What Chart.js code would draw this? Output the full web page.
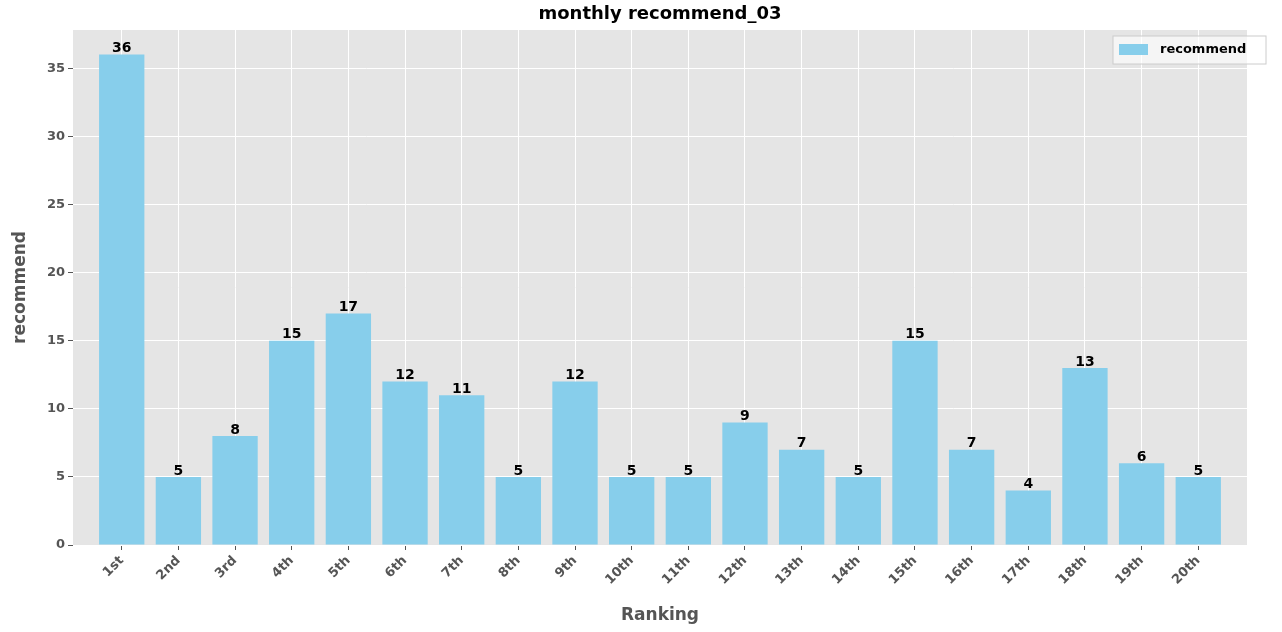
<!DOCTYPE html>
<html><head><meta charset="utf-8">
<script src="https://cdn.jsdelivr.net/npm/chart.js@4"></script>
<style>body{margin:0;background:#fff}#w{width:1282px;height:632px}</style>
</head><body><div id="w"><canvas id="c"></canvas></div>
<script>
var labels = ["1st","2nd","3rd","4th","5th","6th","7th","8th","9th","10th","11th","12th","13th","14th","15th","16th","17th","18th","19th","20th"];
var recommend = [36,5,8,15,17,12,11,5,12,5,5,9,7,5,15,7,4,13,6,5];
var yTicks = [0,5,10,15,20,25,30,35];

var FONT = "'DejaVu Sans', sans-serif";
var deco = {
    id: 'deco',
    beforeDraw: function(chart) {
        var a = chart.chartArea, g = chart.ctx;
        g.save();
        g.fillStyle = '#e5e5e5';
        g.fillRect(a.left, a.top, a.right - a.left, a.bottom - a.top);
        g.restore();
    },
    afterDatasetsDraw: function(chart) {
        var g = chart.ctx, a = chart.chartArea;
        g.save();
        g.font = 'bold 14px ' + FONT;
        g.fillStyle = '#000';
        g.textAlign = 'center';
        g.textBaseline = 'bottom';
        chart.getDatasetMeta(0).data.forEach(function(bar, i) {
            g.fillText(recommend[i], bar.x, bar.y + 1);
        });
        // title
        g.font = 'bold 18px ' + FONT;
        g.fillText('monthly recommend_03', (a.left + a.right) / 2, 23);
        // legend
        g.fillStyle = 'rgba(255,255,255,0.6)';
        g.strokeStyle = '#ccc';
        g.fillRect(1113, 36, 153, 28);
        g.strokeRect(1113, 36, 153, 28);
        g.fillStyle = '#87ceeb';
        g.fillRect(1119, 44, 29, 11);
        g.fillStyle = '#000';
        g.font = 'bold 13px ' + FONT;
        g.textAlign = 'left';
        g.textBaseline = 'middle';
        g.fillText('recommend', 1160, 50);
        g.restore();
    }
};

new Chart(document.getElementById('c'), {
    type: 'bar',
    data: {
        datasets: [{
            label: 'recommend',
            data: recommend.map(function(v, i) { return {x: i, y: v}; }),
            backgroundColor: '#87ceeb',
            barPercentage: 0.8,
            categoryPercentage: 1
        }]
    },
    options: {
        responsive: true,
        maintainAspectRatio: false,
        animation: false,
        layout: {padding: {top: 30, left: 10, right: 35, bottom: 0}},
        plugins: {legend: {display: false}, tooltip: {enabled: false}},
        scales: {
            x: {
                type: 'linear',
                offset: false,
                min: -0.86, max: 19.86,
                afterBuildTicks: function(s) {
                    s.ticks = labels.map(function(l, i) { return {value: i}; });
                },
                afterFit: function(s) { s.height = 87; },
                grid: {offset: false, color: '#fff', lineWidth: 1, drawTicks: true, tickColor: '#555', tickLength: 5},
                border: {display: false},
                ticks: {
                    maxRotation: 45, minRotation: 45, autoSkip: false,
                    color: '#555', font: {family: FONT, size: 13, weight: 'bold'},
                    callback: function(v) { return labels[v]; }
                },
                title: {display: true, text: 'Ranking', color: '#555', font: {family: FONT, size: 17, weight: 'bold'}, padding: {top: -6, bottom: 6}}
            },
            y: {
                min: 0, max: 37.8,
                afterBuildTicks: function(s) {
                    s.ticks = yTicks.map(function(v) { return {value: v}; });
                },
                afterFit: function(s) { s.width = 63; },
                grid: {color: '#fff', lineWidth: 1, tickColor: '#555', tickLength: 5},
                border: {display: false},
                ticks: {color: '#555', font: {family: FONT, size: 13, weight: 'bold'}},
                title: {display: true, text: 'recommend', color: '#555', font: {family: FONT, size: 17, weight: 'bold'}, padding: 0}
            }
        }
    },
    plugins: [deco]
});
</script></body></html>
